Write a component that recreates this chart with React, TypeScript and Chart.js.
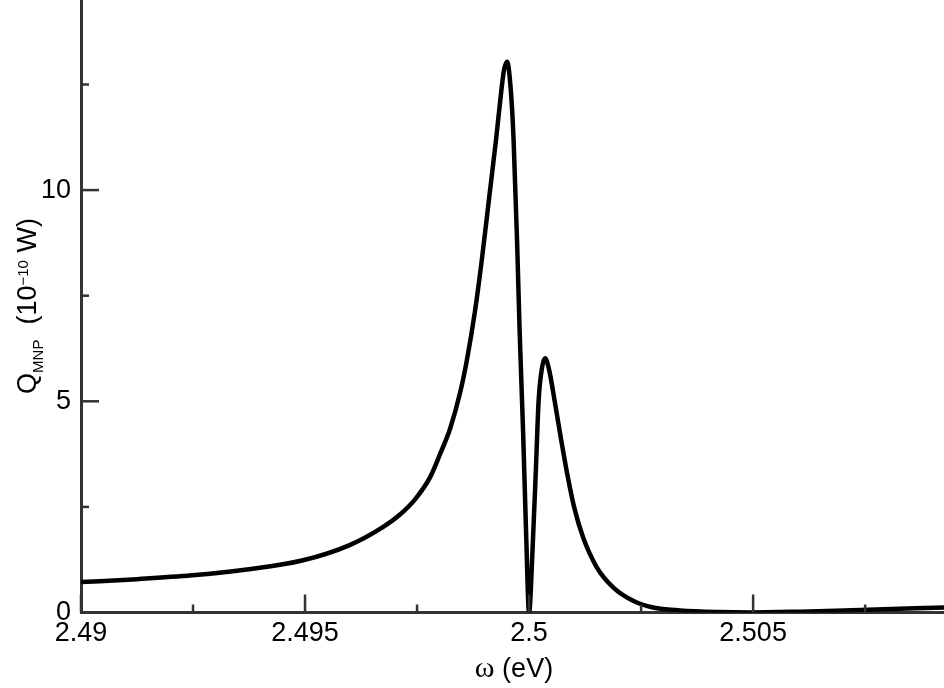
import { useEffect, useRef } from "react";
import Chart from "chart.js/auto";

// photon energy (eV) and absorbed power Q_MNP (10^-10 W)
const omega = [
  2.49, 2.49125, 2.492478, 2.493705, 2.494933, 2.495982, 2.496719, 2.49712,
  2.497455, 2.49779, 2.498013, 2.498237, 2.49846, 2.498616, 2.498795, 2.498951,
  2.499107, 2.499263, 2.499375, 2.499442, 2.499509, 2.499592, 2.499654,
  2.499732, 2.499788, 2.499866, 2.499933, 2.5, 2.500078, 2.500156, 2.500212,
  2.50029, 2.500357, 2.500446, 2.50058, 2.500714, 2.500848, 2.501004, 2.501205,
  2.501511, 2.501882, 2.502321, 2.502768, 2.503371, 2.504263, 2.504933,
  2.506049, 2.507388, 2.509263,
];
const qMnp = [
  0.72, 0.79, 0.88, 1.02, 1.23, 1.59, 2.01, 2.32, 2.68, 3.2, 3.75, 4.35, 5.2,
  6.0, 7.15, 8.4, 9.8, 11.2, 12.3, 12.85, 13.04, 12.37, 11.2, 8.8, 6.7, 4.3, 1.9,
  0, 1.5, 3.5, 5.0, 5.8, 6.02, 5.75, 4.95, 4.1, 3.3, 2.5, 1.78, 1.07, 0.59,
  0.28, 0.12, 0.05, 0.01, 0.0, 0.02, 0.06, 0.12,
];

const xMajor = [2.49, 2.495, 2.5, 2.505];
const xMinor = [2.4925, 2.4975, 2.5025, 2.5075];
const yMajor = [0, 5, 10];
const yMinor = [2.5, 7.5, 12.5];

const AXIS = "#333";
const SANS = "'Liberation Sans', Arial, sans-serif";
const SERIF = "'Liberation Serif', 'Times New Roman', serif";

const decor = {
  id: "decor",
  afterDraw(chart: any) {
    const { ctx, chartArea, scales } = chart;
    const xs = scales.x;
    const ys = scales.y;
    ctx.save();
    ctx.strokeStyle = AXIS;
    ctx.lineWidth = 2.5;
    ctx.lineCap = "butt";
    // inward ticks
    for (const v of [...xMajor, ...xMinor]) {
      const px = xs.getPixelForValue(v);
      const len = xMajor.includes(v) ? 18 : 8;
      ctx.beginPath();
      ctx.moveTo(px, chartArea.bottom);
      ctx.lineTo(px, chartArea.bottom - len);
      ctx.stroke();
    }
    for (const v of [...yMajor, ...yMinor]) {
      const py = ys.getPixelForValue(v);
      const len = yMajor.includes(v) ? 18 : 8;
      ctx.beginPath();
      ctx.moveTo(chartArea.left, py);
      ctx.lineTo(chartArea.left + len, py);
      ctx.stroke();
    }

    ctx.fillStyle = "#000";
    ctx.textBaseline = "alphabetic";

    // x title: ω (eV)
    const big = "27px " + SANS;
    ctx.font = "30px " + SERIF;
    const wOmega = ctx.measureText("ω").width;
    ctx.font = big;
    const wRest = ctx.measureText(" (eV)").width;
    const tx = 514 - (wOmega + wRest) / 2;
    ctx.font = "30px " + SERIF;
    ctx.fillText("ω", tx, 677);
    ctx.font = big;
    ctx.fillText(" (eV)", tx + wOmega, 677);

    // y title: Q_MNP (10^-10 W), rotated
    const small = "15px " + SANS;
    const parts: [string, string, number][] = [
      ["Q", big, 0],
      ["MNP", small, 7],
      ["  (10", big, 0],
      ["\u221210", small, -8],
      [" W)", big, 0],
    ];
    let total = 0;
    for (const [t, f] of parts) {
      ctx.font = f;
      total += ctx.measureText(t).width;
    }
    ctx.translate(36, 306);
    ctx.rotate(-Math.PI / 2);
    let cx = -total / 2;
    for (const [t, f, dy] of parts) {
      ctx.font = f;
      ctx.fillText(t, cx, dy);
      cx += ctx.measureText(t).width;
    }
    ctx.restore();
  },
};

export default function App() {
  const canvasRef = useRef<HTMLCanvasElement | null>(null);

  useEffect(() => {
    if (!canvasRef.current) {
      return;
    }

    const chart = new Chart(canvasRef.current, {
      type: "line",
      data: {
        datasets: [
          {
            data: omega.map((w, i) => ({ x: w, y: qMnp[i] })),
            borderColor: "#000",
            borderWidth: 4.5,
            pointRadius: 0,
            cubicInterpolationMode: "monotone",
            fill: false,
          },
        ],
      },
      options: {
        responsive: false,
        animation: false,
        layout: { padding: 0 },
        plugins: {
          legend: { display: false },
          tooltip: { enabled: false },
        },
        scales: {
          x: {
            type: "linear",
            min: 2.49,
            max: 2.50926,
            grid: { display: false, drawTicks: false },
            border: { display: true, color: AXIS, width: 3 },
            afterBuildTicks: (scale: any) => {
              scale.ticks = [...xMajor, ...xMinor]
                .sort((a, b) => a - b)
                .map((v) => ({ value: v }));
            },
            afterFit: (scale: any) => {
              scale.height = 75.5;
              scale.paddingLeft = 0;
              scale.paddingRight = 0;
            },
            ticks: {
              autoSkip: false,
              maxRotation: 0,
              padding: 5,
              color: "#000",
              font: { family: SANS, size: 27 },
              callback: (v: any) =>
                xMajor.includes(Number(v)) ? String(Number(Number(v).toFixed(4))) : "",
            },
          },
          y: {
            type: "linear",
            min: 0,
            max: 14.5,
            grid: { display: false, drawTicks: false },
            border: { display: true, color: AXIS, width: 3 },
            afterBuildTicks: (scale: any) => {
              scale.ticks = [...yMajor, ...yMinor]
                .sort((a, b) => a - b)
                .map((v) => ({ value: v }));
            },
            afterFit: (scale: any) => {
              scale.width = 81;
              scale.paddingTop = 0;
              scale.paddingBottom = 0;
            },
            ticks: {
              autoSkip: false,
              padding: 10,
              color: "#000",
              font: { family: SANS, size: 27 },
              callback: (v: any) => (yMajor.includes(Number(v)) ? String(v) : ""),
            },
          },
        },
      },
      plugins: [decor],
    });

    return () => chart.destroy();
  }, []);

  return (
    <div
      style={{
        position: "fixed",
        left: 0,
        top: 0,
        width: 944,
        height: 688,
        background: "#fff",
      }}
    >
      <canvas ref={canvasRef} width={944} height={688} style={{ display: "block" }} />
    </div>
  );
}
